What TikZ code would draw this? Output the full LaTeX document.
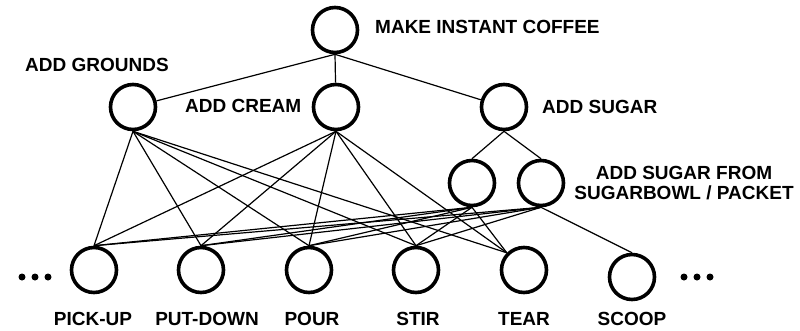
\documentclass[tikz,border=0pt]{standalone}
\usepackage{fontspec}
\setmainfont{Liberation Sans}
\begin{document}
\begin{tikzpicture}[x=1pt, y=-1pt,
  task/.style={circle, draw=black, fill=white, line width=3.6pt, minimum size=45pt, inner sep=0pt},
  lbl/.style={font=\bfseries\fontsize{19}{20}\selectfont, inner sep=0pt},
  link/.style={line width=1.2pt, black},
  dot/.style={circle, fill=black, minimum size=7pt, inner sep=0pt}]
\useasboundingbox (0,0) rectangle (800,330);

% goal hierarchy
\node[task] (coffee) at (335,30) {};
\node[task] (grounds) at (133,107) {};
\node[task] (cream) at (336,107) {};
\node[task] (sugar) at (504,107) {};
\node[task] (bowl) at (472,183) {};
\node[task] (packet) at (541,183) {};

% primitive actions
\node[task] (pickup) at (94,270) {};
\node[task] (putdown) at (201,270) {};
\node[task] (pour) at (309,270) {};
\node[task] (stir) at (416,270) {};
\node[task] (tear) at (524,270) {};
\node[task] (scoop) at (632,277) {};

% labels
\node[lbl, anchor=west] (lcoffee) at (375,27) {MAKE INSTANT COFFEE};
\node[lbl, anchor=west] (lgrounds) at (25,65) {ADD GROUNDS};
\node[lbl, anchor=west] (lcream) at (185,106) {ADD CREAM};
\node[lbl, anchor=west] (lsugar) at (542,107) {ADD SUGAR};
\node[lbl, align=center] (lsrc) at (684,183) {ADD SUGAR FROM\\SUGARBOWL / PACKET};
\node[lbl] (lpickup) at (93,319) {PICK-UP};
\node[lbl] (lputdown) at (207,319) {PUT-DOWN};
\node[lbl] (lpour) at (312,319) {POUR};
\node[lbl] (lstir) at (418,319) {STIR};
\node[lbl] (ltear) at (524,319) {TEAR};
\node[lbl] (lscoop) at (632,319) {SCOOP};

% ellipses on both ends of the action row
\node[dot] (l1) at (22,277) {};
\node[dot] (l2) at (35,277) {};
\node[dot] (l3) at (48,277) {};
\node[dot] (r1) at (684,277) {};
\node[dot] (r2) at (697,277) {};
\node[dot] (r3) at (710,277) {};

% top-level decomposition
\draw[link] (coffee.south) -- (grounds);
\draw[link] (coffee.south) -- (cream);
\draw[link] (coffee.south) -- (sugar);
\draw[link] (sugar.south) -- (bowl.north);
\draw[link] (sugar.south) -- (packet.north);

% subgoals to actions
\foreach \g in {grounds, cream, bowl, packet} {
  \draw[link] (\g.south) -- (pickup.north);
  \draw[link] (\g.south) -- (putdown.north);
  \draw[link] (\g.south) -- (pour.north);
  \draw[link] (\g.south) -- (stir.north);
}
\foreach \g in {grounds, cream, bowl}
  \draw[link] (\g.south) -- (tear.135);
\draw[link] (packet.south) -- (scoop.north);
\end{tikzpicture}
\end{document}
